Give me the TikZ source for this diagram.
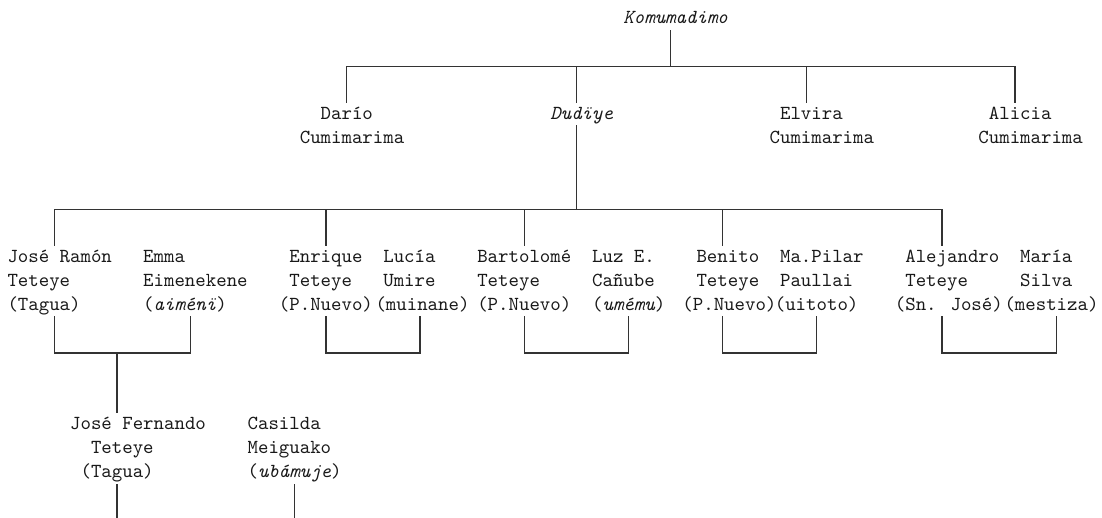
\documentclass[tikz,border=0pt]{standalone}
\usepackage{fontspec}
\newfontfamily\monof{lmmono10-regular.otf}[ItalicFont=lmmono10-italic.otf]
\newcommand\colx[1]{7.5+(#1)*10.44}
\newcommand\rowy[1]{18.4+(#1)*23.9}
\newcommand\famtext[4]{\node[txt] (#1) at ({\colx{#2}},{\rowy{#3}+5.2}) {#4};}
\tikzset{
  txt/.style={anchor=base west, inner sep=0pt, outer sep=0pt,
    text height=17.15pt, text depth=6.75pt,
    font=\monof\fontsize{19.89pt}{23.9pt}\selectfont, text=black!90},
  link/.style={draw=black!80, line width=1.3pt, line cap=rect, line join=miter},
}
\begin{document}
\begin{tikzpicture}[x=1pt,y=-1pt]
\useasboundingbox[fill=white] (0,0) rectangle (1102,518);
% generation 1
\famtext{komu}{59}{0}{\itshape Komumadimo}
% generation 2
\famtext{dario}{30}{4}{Darío}
\famtext{darioB}{28}{5}{Cumimarima}
\famtext{dudiye}{52}{4}{\itshape Dudïye}
\famtext{elvira}{74}{4}{Elvira}
\famtext{elviraB}{73}{5}{Cumimarima}
\famtext{alicia}{94}{4}{Alicia}
\famtext{aliciaB}{93}{5}{Cumimarima}
% generation 3
\famtext{jr1}{0}{10}{José Ramón}
\famtext{jr2}{0}{11}{Teteye}
\famtext{jr3}{0}{12}{(Tagua)}
\famtext{em1}{13}{10}{Emma}
\famtext{em2}{13}{11}{Eimenekene}
\famtext{em3}{13}{12}{({\itshape aiménï})}
\famtext{en1}{27}{10}{Enrique}
\famtext{en2}{27}{11}{Teteye}
\famtext{en3}{26}{12}{(P.Nuevo)}
\famtext{lu1}{36}{10}{Lucía}
\famtext{lu2}{36}{11}{Umire}
\famtext{lu3}{35.25}{12}{(muinane)}
\famtext{ba1}{45}{10}{Bartolomé}
\famtext{ba2}{45}{11}{Teteye}
\famtext{ba3}{45}{12}{(P.Nuevo)}
\famtext{lz1}{56}{10}{Luz E.}
\famtext{lz2}{56}{11}{Cañube}
\famtext{lz3}{56}{12}{({\itshape umému})}
\famtext{be1}{66}{10}{Benito}
\famtext{be2}{66}{11}{Teteye}
\famtext{be3}{64.65}{12}{(P.Nuevo)}
\famtext{mp1}{74}{10}{Ma.Pilar}
\famtext{mp2}{74}{11}{Paullai}
\famtext{mp3}{73.5}{12}{(uitoto)}
\famtext{al1}{86}{10}{Alejandro}
\famtext{al2}{86}{11}{Teteye}
\famtext{al3}{85}{12}{(Sn. José)}
\famtext{ma1}{97}{10}{María}
\famtext{ma2}{97}{11}{Silva}
\famtext{ma3}{95.5}{12}{(mestiza)}
% generation 4
\famtext{jf1}{6}{17}{José Fernando}
\famtext{jf2}{8}{18}{Teteye}
\famtext{jf3}{7}{19}{(Tagua)}
\famtext{ca1}{23}{17}{Casilda}
\famtext{ca2}{23}{18}{Meiguako}
\famtext{ca3}{23}{19}{({\itshape ubámuje})}
% junctions
\coordinate (k)  at ({\colx{63.5}},{\rowy{2}});
\coordinate (t1) at ({\colx{32.5}},{\rowy{2}});
\coordinate (t2) at ({\colx{54.5}},{\rowy{2}});
\coordinate (t3) at ({\colx{76.5}},{\rowy{2}});
\coordinate (t4) at ({\colx{96.5}},{\rowy{2}});
\coordinate (m)  at ({\colx{54.5}},{\rowy{8}});
\coordinate (b1) at ({\colx{4.5}},{\rowy{8}});
\coordinate (b2) at ({\colx{30.5}},{\rowy{8}});
\coordinate (b3) at ({\colx{49.5}},{\rowy{8}});
\coordinate (b4) at ({\colx{68.5}},{\rowy{8}});
\coordinate (b5) at ({\colx{89.5}},{\rowy{8}});
\coordinate (c1l) at ({\colx{4.5}},{\rowy{14}});
\coordinate (c1m) at ({\colx{10.5}},{\rowy{14}});
\coordinate (c1r) at ({\colx{17.5}},{\rowy{14}});
\coordinate (c2l) at ({\colx{30.5}},{\rowy{14}});
\coordinate (c2r) at ({\colx{39.5}},{\rowy{14}});
\coordinate (c3l) at ({\colx{49.5}},{\rowy{14}});
\coordinate (c3r) at ({\colx{59.5}},{\rowy{14}});
\coordinate (c4l) at ({\colx{68.5}},{\rowy{14}});
\coordinate (c4r) at ({\colx{77.5}},{\rowy{14}});
\coordinate (c5l) at ({\colx{89.5}},{\rowy{14}});
\coordinate (c5r) at ({\colx{100.5}},{\rowy{14}});
\coordinate (e1) at ({\colx{10.5}},524);
\coordinate (e2) at ({\colx{27.5}},524);
% connectors
\draw[link] (komu.south -| k) -- (k);
\draw[link] (t1 |- dario.north) -- (t1) -- (t4) -- (t4 |- alicia.north);
\draw[link] (t2) -- (t2 |- dudiye.north);
\draw[link] (t3) -- (t3 |- elvira.north);
\draw[link] (t2 |- dudiye.south) -- (m);
\draw[link] (b1 |- jr1.north) -- (b1) -- (b5) -- (b5 |- al1.north);
\draw[link] (b2) -- (b2 |- en1.north);
\draw[link] (b3) -- (b3 |- ba1.north);
\draw[link] (b4) -- (b4 |- be1.north);
\draw[link] (c1l |- jr3.south) -- (c1l) -- (c1r) -- (c1r |- em3.south);
\draw[link] (c2l |- en3.south) -- (c2l) -- (c2r) -- (c2r |- lu3.south);
\draw[link] (c3l |- ba3.south) -- (c3l) -- (c3r) -- (c3r |- lz3.south);
\draw[link] (c4l |- be3.south) -- (c4l) -- (c4r) -- (c4r |- mp3.south);
\draw[link] (c5l |- al3.south) -- (c5l) -- (c5r) -- (c5r |- ma3.south);
\draw[link] (c1m) -- (c1m |- jf1.north);
\draw[link] (c1m |- jf3.south) -- (e1);
\draw[link] (e2 |- ca3.south) -- (e2);
\end{tikzpicture}
\end{document}
